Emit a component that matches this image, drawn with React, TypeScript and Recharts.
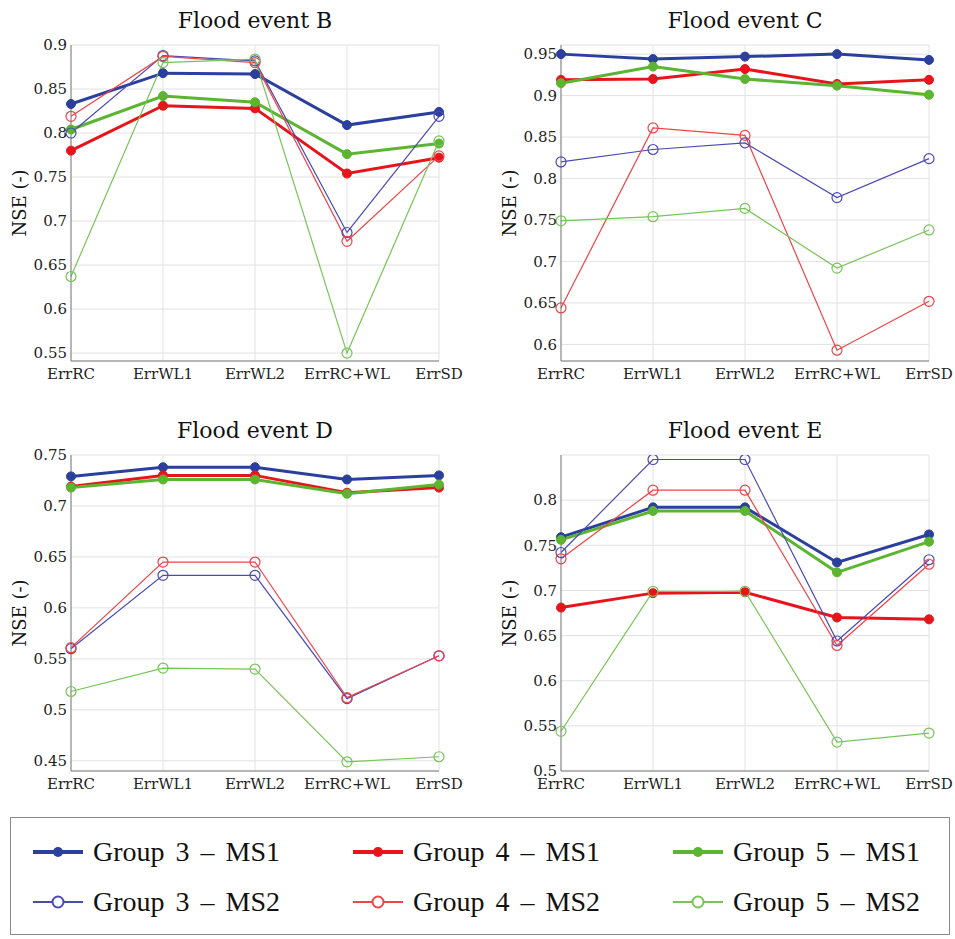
import React from "react";
import {
  LineChart,
  Line,
  XAxis,
  YAxis,
  CartesianGrid,
} from "recharts";

// x categories shared by all four panels
const categories = ["ErrRC", "ErrWL1", "ErrWL2", "ErrRC+WL", "ErrSD"];

// series order: G3-MS1, G4-MS1, G5-MS1, G3-MS2, G4-MS2, G5-MS2
const seriesNames = [
  "Group 3 – MS1",
  "Group 4 – MS1",
  "Group 5 – MS1",
  "Group 3 – MS2",
  "Group 4 – MS2",
  "Group 5 – MS2",
];

const eventB = [
  [0.833, 0.868, 0.867, 0.809, 0.824],
  [0.78, 0.831, 0.828, 0.754, 0.772],
  [0.804, 0.842, 0.835, 0.776, 0.788],
  [0.8, 0.888, 0.882, 0.687, 0.819],
  [0.819, 0.887, 0.88, 0.677, 0.774],
  [0.637, 0.88, 0.884, 0.55, 0.791],
];

const eventC = [
  [0.95, 0.944, 0.947, 0.95, 0.943],
  [0.919, 0.92, 0.932, 0.914, 0.919],
  [0.915, 0.935, 0.92, 0.912, 0.901],
  [0.82, 0.835, 0.843, 0.777, 0.824],
  [0.644, 0.861, 0.852, 0.593, 0.652],
  [0.749, 0.754, 0.764, 0.692, 0.738],
];

const eventD = [
  [0.729, 0.738, 0.738, 0.726, 0.73],
  [0.719, 0.73, 0.73, 0.713, 0.718],
  [0.718, 0.726, 0.726, 0.712, 0.721],
  [0.56, 0.632, 0.632, 0.511, 0.553],
  [0.561, 0.645, 0.645, 0.512, 0.553],
  [0.518, 0.541, 0.54, 0.449, 0.454],
];

const eventE = [
  [0.759, 0.792, 0.792, 0.731, 0.762],
  [0.681, 0.697, 0.698, 0.67, 0.668],
  [0.756, 0.788, 0.788, 0.72, 0.754],
  [0.742, 0.845, 0.845, 0.644, 0.734],
  [0.735, 0.811, 0.811, 0.639, 0.729],
  [0.544, 0.699, 0.699, 0.532, 0.542],
];

const ticksB = [0.55, 0.6, 0.65, 0.7, 0.75, 0.8, 0.85, 0.9];
const ticksC = [0.6, 0.65, 0.7, 0.75, 0.8, 0.85, 0.9, 0.95];
const ticksD = [0.45, 0.5, 0.55, 0.6, 0.65, 0.7, 0.75];
const ticksE = [0.5, 0.55, 0.6, 0.65, 0.7, 0.75, 0.8];

// styling
const colors = ["#2b3f9c", "#e8141c", "#5cb531", "#4a4ab4", "#ef4448", "#78c458"];
const filled = [true, true, true, false, false, false];

const chartFont = "'DejaVu Serif', serif";
const frame = "#7a7a7a";
const W = 477;
const H = 400;
const PLOT_W = 368;

const fmt = (v: number) => String(Number(v.toFixed(2)));

type PanelProps = {
  title: string;
  values: number[][];
  ticks: number[];
  domain: [number, number];
  left: number;
  top: number;
  plotLeft: number;
};

const Panel = ({ title, values, ticks, domain, left, top, plotLeft }: PanelProps) => {
  const rows = categories.map((c, i) => {
    const r: Record<string, number | string> = { name: c };
    values.forEach((s, k) => {
      r["s" + k] = s[i];
    });
    return r;
  });
  const yw = plotLeft - left;
  return (
    <>
      <div
        style={{
          position: "absolute",
          left: plotLeft,
          top: top + 10,
          width: PLOT_W,
          textAlign: "center",
          fontFamily: chartFont,
          fontSize: 22,
          lineHeight: "22px",
          color: "#111",
        }}
      >
        {title}
      </div>
      <div
        style={{
          position: "absolute",
          left: plotLeft - 51 - 100,
          top: top + 45 + 158 - 12,
          width: 200,
          height: 24,
          lineHeight: "24px",
          textAlign: "center",
          transform: "rotate(-90deg)",
          fontFamily: chartFont,
          fontSize: 18,
          color: "#111",
        }}
      >
        NSE (-)
      </div>
      <div style={{ position: "absolute", left, top }}>
        <LineChart
          width={W}
          height={H}
          data={rows}
          margin={{ top: 45, right: W - yw - PLOT_W, bottom: 9, left: 0 }}
        >
          <CartesianGrid stroke="#e2e2e2" />
          <XAxis
            dataKey="name"
            height={30}
            tickLine={false}
            tickSize={0}
            tickMargin={7}
            stroke={frame}
            tick={{ fill: "#222", fontSize: 15, fontFamily: chartFont }}
            interval={0}
          />
          <XAxis
            xAxisId="top"
            dataKey="name"
            orientation="top"
            height={0}
            tick={false}
            tickLine={false}
            stroke={frame}
          />
          <YAxis
            width={yw}
            type="number"
            domain={domain}
            ticks={ticks}
            allowDataOverflow
            tickLine={false}
            tickSize={0}
            tickMargin={4}
            tickFormatter={fmt}
            stroke={frame}
            tick={{ fill: "#222", fontSize: 15, fontFamily: chartFont }}
          />
          <YAxis
            yAxisId="right"
            orientation="right"
            width={0}
            type="number"
            domain={domain}
            allowDataOverflow
            tick={false}
            tickLine={false}
            stroke={frame}
          />
          {values.map((_, k) => (
            <Line
              key={k}
              type="linear"
              dataKey={"s" + k}
              stroke={colors[k]}
              strokeWidth={filled[k] ? 3 : 1.2}
              dot={
                filled[k]
                  ? { r: 4.5, fill: colors[k], stroke: colors[k], strokeWidth: 1 }
                  : { r: 5, fill: "none", stroke: colors[k], strokeWidth: 1.2 }
              }
              activeDot={false}
              isAnimationActive={false}
            />
          ))}
        </LineChart>
      </div>
    </>
  );
};

const LegendIcon = ({ k }: { k: number }) => (
  <svg width={52} height={20} style={{ display: "block" }}>
    <line
      x1={1}
      y1={10}
      x2={51}
      y2={10}
      stroke={colors[k]}
      strokeWidth={filled[k] ? 4 : 2}
    />
    {filled[k] ? (
      <circle cx={26} cy={10} r={5} fill={colors[k]} />
    ) : (
      <circle cx={26} cy={10} r={5.5} fill="#fff" stroke={colors[k]} strokeWidth={2} />
    )}
  </svg>
);

export default function App() {
  return (
    <div
      style={{
        position: "absolute",
        left: 0,
        top: 0,
        width: 955,
        height: 939,
        background: "#fff",
        overflow: "hidden",
      }}
    >
      <Panel title="Flood event B" values={eventB} ticks={ticksB} domain={[0.541, 0.9]} left={0} top={0} plotLeft={71} />
      <Panel title="Flood event C" values={eventC} ticks={ticksC} domain={[0.58, 0.961]} left={480} top={0} plotLeft={561} />
      <Panel title="Flood event D" values={eventD} ticks={ticksD} domain={[0.44, 0.75]} left={0} top={410} plotLeft={71} />
      <Panel title="Flood event E" values={eventE} ticks={ticksE} domain={[0.5, 0.85]} left={480} top={410} plotLeft={561} />

      <div
        style={{
          position: "absolute",
          left: 10,
          top: 817,
          width: 940,
          height: 118,
          border: "1.5px solid #8a8a8a",
          boxSizing: "border-box",
        }}
      />
      {seriesNames.map((name, k) => {
        const col = k % 3;
        const row = Math.floor(k / 3);
        return (
          <div
            key={name}
            style={{
              position: "absolute",
              left: 32 + col * 320,
              top: 852 + row * 50 - 17,
              height: 34,
              display: "flex",
              alignItems: "center",
              fontFamily: "'Liberation Serif', serif",
              fontSize: 28,
              wordSpacing: 4,
              color: "#111",
              whiteSpace: "nowrap",
            }}
          >
            <LegendIcon k={k} />
            <span style={{ marginLeft: 9 }}>{name}</span>
          </div>
        );
      })}
    </div>
  );
}
